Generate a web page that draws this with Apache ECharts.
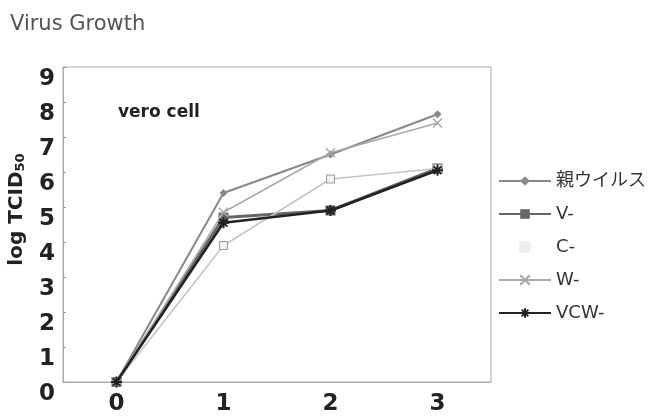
<!DOCTYPE html>
<html>
<head>
<meta charset="utf-8">
<script src="https://cdn.jsdelivr.net/npm/echarts@6/dist/echarts.min.js"></script>
<style>
  html, body { margin: 0; padding: 0; background: #fff; }
  #chart { width: 658px; height: 416px; }
</style>
</head>
<body>
<div id="chart"></div>
<script>
// time points (x axis) and log TCID50 values
var days = ['0', '1', '2', '3'];
var parent = [0, 5.4, 6.5, 7.65];
var vMinus = [0, 4.7, 4.9, 6.1];
var cMinus = [0, 3.9, 5.8, 6.1];
var wMinus = [0, 4.85, 6.55, 7.4];
var vcwMinus = [0, 4.55, 4.9, 6.05];
var names = ['親ウイルス', 'V-', 'C-', 'W-', 'VCW-'];

var crossPath = 'path://M0,0L10,10M10,0L0,10';
var starPath = 'path://M5,0L5,10M0,5L10,5M1.5,1.5L8.5,8.5M8.5,1.5L1.5,8.5';

var font = "'DejaVu Sans', 'Noto Sans CJK JP', sans-serif";

var chart = echarts.init(document.getElementById('chart'));

chart.setOption({
    backgroundColor: '#fff',
    animation: false,
    title: {
        text: 'Virus Growth',
        left: 5,
        top: 9,
        textStyle: { fontFamily: font, fontSize: 21, fontWeight: 'normal', color: '#555' }
    },
    graphic: [{
        type: 'text',
        left: 118,
        top: 104,
        style: { text: 'vero cell', font: 'bold 17px ' + font, fill: '#222' }
    }],
    legend: {
        orient: 'vertical',
        left: 498,
        top: 172,
        padding: 0,
        itemWidth: 52,
        itemHeight: 12,
        itemGap: 15,
        data: [
            names[0], names[1],
            { name: names[2], itemStyle: { color: '#eee', borderColor: '#eee' }, lineStyle: { opacity: 0 } },
            names[3], names[4]
        ],
        textStyle: { fontFamily: font, fontSize: 18, color: '#333' }
    },
    grid: {
        left: 63, right: 167, top: 67, bottom: 34,
        containLabel: false,
        outerBoundsMode: 'none',
        show: true,
        borderColor: '#aaa',
        borderWidth: 1
    },
    xAxis: {
        type: 'category',
        data: days,
        boundaryGap: true,
        axisLine: { lineStyle: { color: '#aaa' } },
        axisTick: { inside: true, length: 2, lineStyle: { color: '#999' } },
        axisLabel: { fontFamily: font, fontSize: 23, fontWeight: 'bold', color: '#222', margin: 11 }
    },
    yAxis: {
        type: 'value',
        min: 0, max: 9, interval: 1,
        splitLine: { show: false },
        axisLine: { show: true, lineStyle: { color: '#aaa' } },
        axisTick: { show: true, inside: true, length: 3, lineStyle: { color: '#999' } },
        axisLabel: {
            fontFamily: font, fontSize: 23, fontWeight: 'bold', color: '#222',
            margin: 8, verticalAlign: 'top', lineHeight: 25
        },
        name: '{a|log TCID}{b|50}',
        nameLocation: 'middle',
        nameRotate: 90,
        nameGap: 36,
        nameTextStyle: {
            padding: [0, 0, 0, 30],
            rich: {
                a: { fontFamily: font, fontSize: 20, fontWeight: 'bold', color: '#222' },
                b: { fontFamily: font, fontSize: 13, fontWeight: 'bold', color: '#222', padding: [8, 0, 0, 0] }
            }
        }
    },
    series: [
        {
            name: names[0], type: 'line', data: parent, z: 3,
            symbol: 'diamond', symbolSize: 8,
            lineStyle: { color: '#888', width: 2 },
            itemStyle: { color: '#888' }
        },
        {
            name: names[1], type: 'line', data: vMinus, z: 2,
            symbol: 'rect', symbolSize: 10,
            lineStyle: { color: '#666', width: 3 },
            itemStyle: { color: '#666' }
        },
        {
            name: names[2], type: 'line', data: cMinus, z: 2,
            symbol: 'rect', symbolSize: 8,
            lineStyle: { color: '#c4c4c4', width: 1.5 },
            itemStyle: { color: '#f2f2f2', borderColor: '#999', borderWidth: 1 }
        },
        {
            name: names[3], type: 'line', data: wMinus, z: 3,
            symbol: crossPath, symbolSize: 9, symbolKeepAspect: true,
            lineStyle: { color: '#a8a8a8', width: 1.5 },
            itemStyle: { color: '#a8a8a8', borderColor: '#a8a8a8', borderWidth: 1.5 }
        },
        {
            name: names[4], type: 'line', data: vcwMinus, z: 4,
            symbol: starPath, symbolSize: 11, symbolKeepAspect: true,
            lineStyle: { color: '#222', width: 2.5 },
            itemStyle: { color: '#222', borderColor: '#222', borderWidth: 2 }
        }
    ]
});
</script>
</body>
</html>
